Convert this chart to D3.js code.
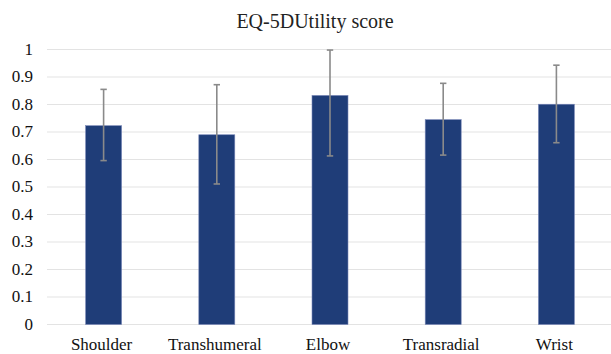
<!DOCTYPE html>
<html>
<head>
<meta charset="utf-8">
<script src="https://cdn.jsdelivr.net/npm/d3@7"></script>
</head>
<body style="margin:0;background:#fff">
<svg id="chart" width="611" height="354" style="display:block;font-family:'Liberation Serif','Times New Roman',serif"></svg>
<script>
const categories = ["Shoulder", "Transhumeral", "Elbow", "Transradial", "Wrist"];
const means = [0.723, 0.690, 0.833, 0.745, 0.801];
const errHigh = [0.855, 0.872, 0.998, 0.877, 0.943];
const errLow = [0.596, 0.511, 0.613, 0.616, 0.661];
const yTicks = [0, 0.1, 0.2, 0.3, 0.4, 0.5, 0.6, 0.7, 0.8, 0.9, 1];
const tickLabels = ["0", "0.1", "0.2", "0.3", "0.4", "0.5", "0.6", "0.7", "0.8", "0.9", "1"];
const title = "EQ-5DUtility score";

const svg = d3.select("#chart");

const x = d3.scaleBand().domain(categories).range([47, 613])
  .paddingInner(0.682).paddingOuter(0.341);
const y = d3.scaleLinear().domain([0, 1]).range([324.5, 49.5]);

// gridlines
svg.append("g").selectAll("line").data(yTicks).join("line")
  .attr("x1", 47).attr("x2", 611)
  .attr("y1", d => y(d)).attr("y2", d => y(d))
  .attr("stroke", "#e3e3e3").attr("stroke-width", 1.2);

// y labels (drawn via scale, plain text elements)
svg.append("g").selectAll("text").data(yTicks).join("text")
  .attr("x", 33).attr("y", d => y(d)).attr("dy", "0.32em")
  .attr("text-anchor", "end").attr("font-size", 17).attr("fill", "#111")
  .text((d, i) => tickLabels[i]);

// bars
const data = categories.map((c, i) => ({ c, m: means[i], hi: errHigh[i], lo: errLow[i] }));
svg.append("g").selectAll("rect").data(data).join("rect")
  .attr("x", d => x(d.c)).attr("width", x.bandwidth())
  .attr("y", d => y(d.m)).attr("height", d => y(0) - y(d.m))
  .attr("fill", "#1f3d78").attr("stroke", "#7a88b8").attr("stroke-width", 0.6);

// error bars
const eg = svg.append("g").attr("stroke", "#8a8a8a").attr("stroke-width", 1.6);
eg.selectAll("line.v").data(data).join("line").attr("class", "v")
  .attr("x1", d => x(d.c) + x.bandwidth() / 2).attr("x2", d => x(d.c) + x.bandwidth() / 2)
  .attr("y1", d => y(d.hi)).attr("y2", d => y(d.lo));
eg.selectAll("line.t").data(data).join("line").attr("class", "t")
  .attr("x1", d => x(d.c) + x.bandwidth() / 2 - 3.2).attr("x2", d => x(d.c) + x.bandwidth() / 2 + 3.2)
  .attr("y1", d => y(d.hi)).attr("y2", d => y(d.hi));
eg.selectAll("line.b").data(data).join("line").attr("class", "b")
  .attr("x1", d => x(d.c) + x.bandwidth() / 2 - 3.2).attr("x2", d => x(d.c) + x.bandwidth() / 2 + 3.2)
  .attr("y1", d => y(d.lo)).attr("y2", d => y(d.lo));

// x labels
svg.append("g").selectAll("text").data(categories).join("text")
  .attr("x", d => x(d) + x.bandwidth() / 2 - 2).attr("y", 349.5)
  .attr("text-anchor", "middle").attr("font-size", 17).attr("fill", "#111")
  .text(d => d);

// title
svg.append("text").attr("x", 315).attr("y", 28).attr("text-anchor", "middle")
  .attr("font-size", 20).attr("fill", "#222").text(title);
</script>
</body>
</html>
